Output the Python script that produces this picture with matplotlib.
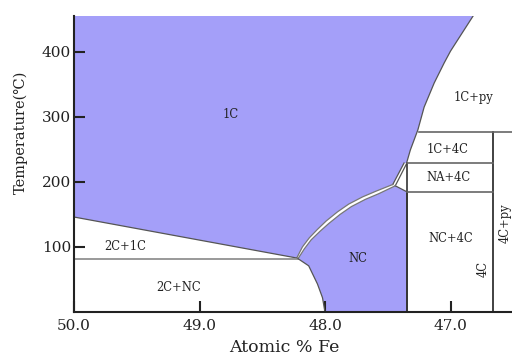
import matplotlib
matplotlib.use("Agg")
import matplotlib.pyplot as plt
from matplotlib.patches import Polygon

plt.rcParams['font.family'] = ['DejaVu Serif', 'DejaVu Sans']

# ---- data (Atomic % Fe, Temperature C) ----
x_ticks = [50.0, 49.0, 48.0, 47.0]
x_tick_labels = ["50.0", "49.0", "48.0", "47.0"]
y_ticks = [100, 200, 300, 400]
y_tick_labels = ["100", "200", "300", "400"]

t_top = 455
# 1C / 1C+py boundary (top -> down)
c1py_x = [46.82, 46.88, 46.94, 47.00, 47.05, 47.13, 47.21, 47.26, 47.32, 47.35]
c1py_y = [455, 437, 419, 401, 383, 352, 315, 280, 249, 229]
# NA wedge edges: from curve end to triple point
na_left_x = [47.37, 47.46]
na_left_y = [229, 196]
na_right_x = [47.35, 47.44]
na_right_y = [228, 194]
# triple point -> NC/NA+4C corner
na_nc_x = [47.44, 47.35]
na_nc_y = [194, 185]
# 1C+NC two-phase band edges (triple point -> eutectoid)
c1nc_x = [47.46, 47.59, 47.70, 47.81, 47.90, 47.99, 48.06, 48.125, 48.18, 48.225]
c1nc_y = [196, 186, 177, 166, 154, 140, 127, 114, 100, 83]
ncc1_x = [47.44, 47.57, 47.68, 47.79, 47.88, 47.97, 48.04, 48.11, 48.165, 48.215]
ncc1_y = [194, 182, 173, 162, 150, 136, 124, 111, 97, 82]
# 2C+1C upper boundary
c2c1_x = [48.225, 50.0]
c2c1_y = [83, 146]
# eutectoid horizontal
eut_t = 82
# 2C+NC / NC boundary
c2nc_x = [48.215, 48.13, 48.06, 48.02, 48.0]
c2nc_y = [82, 71, 43, 22, 0]
# NC / NC+4C vertical
nc_right = 47.35
# 4C composition
x_4c = 46.66
# horizontal invariants
t_py = 277
t_1c4c = 229
t_na4c = 185

labels = ["1C", "1C+py", "1C+4C", "NA+4C", "NC+4C", "NC", "2C+1C", "2C+NC"]
label_x = [48.75, 46.82, 47.02, 47.02, 47.0, 47.74, 49.59, 49.17]
label_y = [303, 329, 250, 207, 113, 82, 100, 37]

purple = "#a49ff9"
edge = "#555555"
txt = "#222222"

fig = plt.figure(figsize=(5.12, 3.56), dpi=100)
ax = fig.add_axes([74/512, 44/356, 454/512, 296/356])
xmin, xmax = 50.0, 50.0 - 454/125.5
ax.set_xlim(xmin, xmax)
ax.set_ylim(0, t_top)

# 1C region
poly1 = [(50.0, t_top)] + list(zip(c1py_x, c1py_y)) + list(zip(na_left_x, na_left_y)) \
    + list(zip(c1nc_x, c1nc_y)) + list(zip(c2c1_x, c2c1_y))
ax.add_patch(Polygon(poly1, closed=True, facecolor=purple, edgecolor='none', zorder=1))

# NC region
polync = [(c2nc_x[-1], 0), (nc_right, 0), (nc_right, na_nc_y[1]), (na_nc_x[0], na_nc_y[0])] \
    + list(zip(ncc1_x, ncc1_y)) + list(zip(c2nc_x, c2nc_y))
ax.add_patch(Polygon(polync, closed=True, facecolor=purple, edgecolor='none', zorder=1))

ax.plot(c1py_x, c1py_y, color=edge, lw=0.9, zorder=2)
ax.plot(na_left_x, na_left_y, color=edge, lw=0.9, zorder=2)
ax.plot(na_right_x, na_right_y, color=edge, lw=0.9, zorder=2)
ax.plot(na_nc_x, na_nc_y, color=edge, lw=0.9, zorder=2)
ax.plot(c1nc_x, c1nc_y, color="#777777", lw=0.9, zorder=2)
ax.plot(ncc1_x, ncc1_y, color="#777777", lw=0.9, zorder=2)
ax.plot(c2c1_x, c2c1_y, color=edge, lw=0.9, zorder=2)
ax.plot([50.0, c2nc_x[0]], [eut_t, eut_t], color="#888888", lw=1.2, zorder=2)
ax.plot(c2nc_x, c2nc_y, color=edge, lw=0.9, zorder=2)
ax.plot([nc_right, nc_right], [0, na_nc_y[1]], color="#333333", lw=1.4, zorder=2)
ax.plot([nc_right, nc_right], [na_nc_y[1], t_1c4c], color="#333333", lw=1.2, zorder=2)
ax.plot([x_4c, x_4c], [0, t_py], color="#333333", lw=1.3, zorder=2)
ax.plot([c1py_x[7] - 0.01, xmax], [t_py, t_py], color="#666666", lw=1.2, zorder=2)
ax.plot([nc_right, x_4c], [t_1c4c, t_1c4c], color="#666666", lw=1.2, zorder=2)
ax.plot([nc_right, x_4c], [t_na4c, t_na4c], color="#666666", lw=1.2, zorder=2)

for s, lx, ly in zip(labels, label_x, label_y):
    ax.text(lx, ly, s, fontsize=8.3, ha='center', va='center', color=txt, zorder=3)
ax.text(46.74, 66, "4C", fontsize=8.3, rotation=90, ha='center', va='center', color=txt)
ax.text(46.563, 137, "4C+py", fontsize=8.3, rotation=90, ha='center', va='center', color=txt)

for s in ['top', 'right']:
    ax.spines[s].set_visible(False)
for s in ['left', 'bottom']:
    ax.spines[s].set_color("#222222")
    ax.spines[s].set_linewidth(1.5)

ax.set_xticks(x_ticks)
ax.set_xticklabels(x_tick_labels)
ax.set_yticks(y_ticks)
ax.set_yticklabels(y_tick_labels)
ax.tick_params(direction='in', length=8, width=1.5, color="#222222", labelsize=11,
               labelcolor=txt)
ax.tick_params(axis='y', pad=2)
ax.tick_params(axis='x', pad=5)

ax.set_xlabel("Atomic % Fe", fontsize=12.5, color=txt)
ax.set_ylabel("Temperature(℃)", fontsize=10.5, color=txt)
ax.xaxis.set_label_coords((284 - 74) / 454, -(348 - 312) / 296)
ax.yaxis.set_label_coords((21 - 74) / 454, (312 - 132) / 296)
ax.xaxis.label.set_va('center')
ax.yaxis.label.set_va('center')

fig.savefig("out.png", dpi=100)
